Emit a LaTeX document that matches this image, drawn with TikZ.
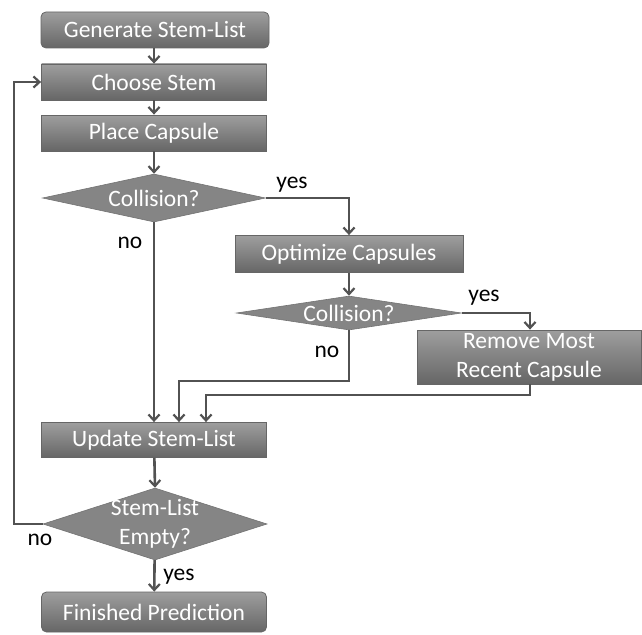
\documentclass[tikz,border=0pt]{standalone}
\usepackage{fontspec}
\setmainfont{Carlito}
\usetikzlibrary{shapes.geometric,arrows.meta}
\begin{document}
\begin{tikzpicture}[x=1pt,y=-1pt,
  font=\fontsize{23.5}{26}\selectfont,
  boxstyle/.style={draw=black!60,line width=0.8pt,top color=black!38,bottom color=black!60,
    text=white,inner sep=0pt,anchor=center},
  decstyle/.style={shape=diamond,draw=black!55,line width=0.6pt,fill=black!48,text=white,
    inner sep=0pt,align=center},
  conn/.style={draw=black!68,line width=2.6pt,-{Straight Barb[length=6pt,width=11pt,line width=2.2pt]}},
  lbl/.style={text=black,inner sep=0pt}]
\useasboundingbox (0,0) rectangle (642,634);
\fill[white] (0,0) rectangle (642,634);
% boxes
\node[boxstyle,rounded corners=5pt,minimum width=228pt,minimum height=36pt] (gen) at (155,30) {Generate Stem-List};
\node[boxstyle,minimum width=225pt,minimum height=36pt] (choose) at (154,82) {Choose Stem};
\node[boxstyle,minimum width=225pt,minimum height=36pt] (place) at (154,133) {Place Capsule};
\node[decstyle,minimum width=223pt,minimum height=48pt,aspect=4.6] (col1) at (154,198) {Collision?};
\node[boxstyle,minimum width=228pt,minimum height=37pt] (opt) at (349,254) {Optimize Capsules};
\node[decstyle,minimum width=225pt,minimum height=34pt,aspect=6.6,inner sep=-3pt] (col2) at (349,313) {Collision?};
\node[boxstyle,minimum width=224pt,minimum height=54pt,align=center,font=\fontsize{23.5}{29}\selectfont] (rem) at (529,357) {Remove Most\\Recent Capsule};
\node[boxstyle,minimum width=225pt,minimum height=35pt] (upd) at (154,440) {Update Stem-List};
\node[decstyle,minimum width=224pt,minimum height=72pt,aspect=3.1,inner sep=-9pt,font=\fontsize{23.5}{29}\selectfont] (empty) at (155,524) {Stem-List\\Empty?};
\node[boxstyle,rounded corners=5pt,minimum width=225pt,minimum height=40pt] (fin) at (154,612) {Finished Prediction};
% connectors
\draw[conn] (gen.south -| choose) -- (choose.north);
\draw[conn] (choose) -- (place);
\draw[conn] (place) -- (col1.north);
\draw[conn] (col1.south) -- (upd.north);
\draw[conn] (col1.east) -| (opt.north);
\draw[conn] (opt) -- (col2.north);
\coordinate (c2a) at (349,381);
\coordinate (c2b) at (179,381);
\draw[conn] (col2.south) -- (c2a) -- (c2b) -- (c2b |- upd.north);
\coordinate (rb) at (530,395);
\coordinate (rc) at (206,395);
\draw[conn] (col2.east) -| (rem.north -| rb);
\draw[conn] (rem.south -| rb) -- (rb) -- (rc) -- (rc |- upd.north);
\draw[conn] (upd) -- (empty.north);
\draw[conn] (empty) -- (fin);
\coordinate (lp) at (14,524);
\draw[conn] (empty.west) -- (lp) |- (choose.west);
% labels
\node[lbl] (y1) at (292,185) {yes};
\node[lbl] (n1) at (130,243) {no};
\node[lbl] (y2) at (484,298) {yes};
\node[lbl] (n2) at (327,352) {no};
\node[lbl] (n3) at (40,540) {no};
\node[lbl] (y3) at (179,577) {yes};
\end{tikzpicture}
\end{document}
